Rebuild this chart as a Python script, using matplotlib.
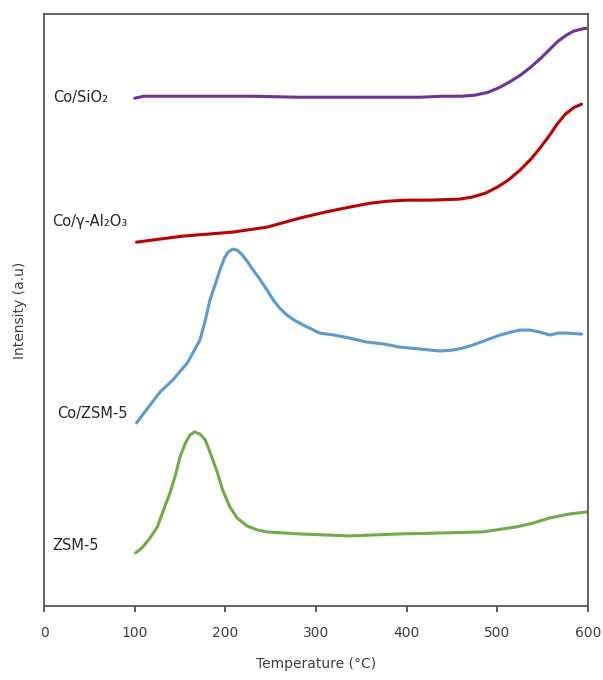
import matplotlib.pyplot as plt

# TPR profiles (temperature in C, intensity in arbitrary units)
t_sio2 = [100, 110, 130, 170, 230, 280, 340, 390, 415, 440, 460, 475, 490, 503, 515,
          527, 538, 548, 558, 567, 576, 584, 592, 598]
i_sio2 = [508, 510, 510, 510, 510, 509, 509, 509, 509, 510, 510, 511, 514, 519, 525,
          532, 540, 548, 557, 565, 571, 575, 577, 578]

t_al2o3 = [102, 153, 208, 246, 282, 310, 337, 360, 380, 400, 425, 458, 472, 487, 500,
           512, 525, 537, 547, 557, 566, 575, 585, 593]
i_al2o3 = [364, 370, 374, 379, 388, 394, 399, 403, 405, 406, 406, 407, 409, 413, 419,
           426, 436, 447, 458, 470, 482, 492, 499, 502]

t_cozsm = [102, 117, 128, 142, 158, 172, 178, 183, 189, 194, 199, 203, 208, 213, 218,
           224, 230, 238, 246, 253, 260, 268, 276, 286, 295, 304, 320, 337, 356, 375,
           392, 415, 437, 451, 462, 473, 488, 503, 515, 525, 536, 547, 558, 567, 577, 593]
i_cozsm = [183, 201, 214, 226, 243, 266, 286, 306, 322, 336, 348, 354, 357, 356, 352,
           345, 337, 327, 316, 306, 298, 291, 286, 281, 277, 273, 271, 268, 264, 262,
           259, 257, 255, 256, 258, 261, 266, 271, 274, 276, 276, 274, 271, 273, 273, 272]

t_zsm = [101, 108, 117, 125, 131, 139, 145, 150, 156, 161, 166, 172, 178, 183, 191,
         197, 205, 213, 224, 235, 246, 282, 337, 392, 440, 484, 521, 540, 558, 580, 599]
i_zsm = [53, 58, 68, 79, 94, 113, 131, 149, 163, 171, 174, 172, 166, 154, 134,
         116, 99, 88, 80, 76, 74, 72, 70, 72, 73, 74, 79, 83, 88, 92, 94]

x_ticks = [0, 100, 200, 300, 400, 500, 600]


def main():
    fig = plt.figure(figsize=(6.03, 6.80), dpi=100)
    ax = fig.add_axes([0.073, 0.109, 0.902, 0.870])

    lw = 2.2
    ax.plot(t_sio2, i_sio2, color='#7030A0', lw=lw, solid_capstyle='round', solid_joinstyle='round')
    ax.plot(t_al2o3, i_al2o3, color='#C00000', lw=lw, solid_capstyle='round', solid_joinstyle='round')
    ax.plot(t_cozsm, i_cozsm, color='#5B9BD5', lw=lw, solid_capstyle='round', solid_joinstyle='round')
    ax.plot(t_zsm, i_zsm, color='#70AD47', lw=lw, solid_capstyle='round', solid_joinstyle='round')

    lbl = dict(fontsize=10.5, color='#262626', va='center', ha='left')
    ax.text(10, 509, 'Co/SiO₂', **lbl)
    ax.text(9, 385, 'Co/γ-Al₂O₃', **lbl)
    ax.text(14, 193, 'Co/ZSM-5', **lbl)
    ax.text(9, 60, 'ZSM-5', **lbl)

    ax.set_xlim(0, 600)
    ax.set_ylim(0, 592)
    ax.set_xticks(x_ticks)
    ax.set_yticks([])
    ax.tick_params(axis='x', direction='out', length=4.5, width=1.2,
                   color='#404040', pad=10, labelsize=10, labelcolor='#404040')
    for sp in ax.spines.values():
        sp.set_color('#595959')
        sp.set_linewidth(1.3)

    ax.set_xlabel('Temperature (°C)', fontsize=10, color='#404040', labelpad=12)
    ax.set_ylabel('Intensity (a.u)', fontsize=10, color='#404040', labelpad=12)

    fig.savefig('out.png', dpi=100)


if __name__ == '__main__':
    main()
